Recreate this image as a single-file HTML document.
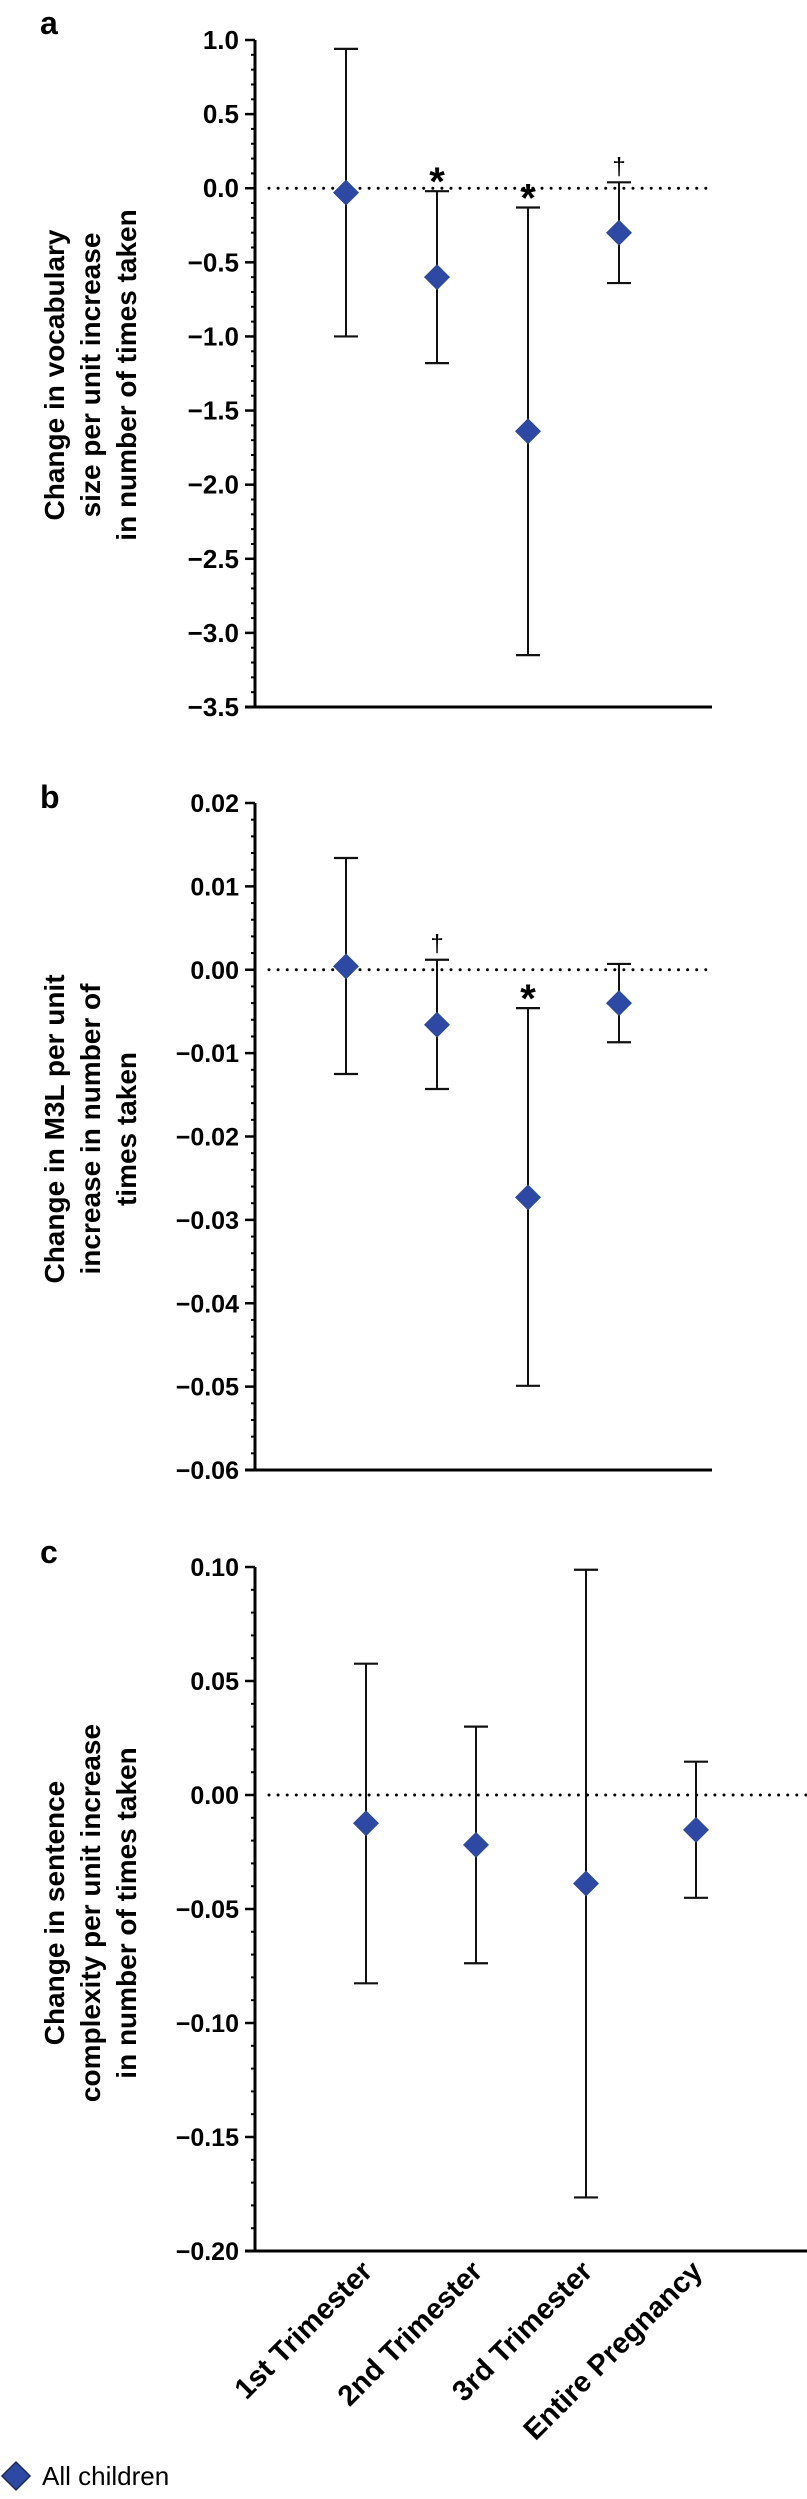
<!DOCTYPE html>
<html><head><meta charset="utf-8"><style>
html,body{margin:0;padding:0;background:#fff;}
svg{display:block;font-family:"Liberation Sans",Arial,sans-serif;}
</style></head><body>
<svg id="chart" width="807" height="2499" viewBox="0 0 807 2499">
<g id="root"></g>
<g>
<path d="M16 2462 L30 2476 L16 2490 L2 2476 Z" fill="#2d49a3" stroke="#1a2a5c" stroke-width="1.5"/>
<text x="42" y="2485" font-size="26" fill="#000">All children</text>
</g>
</svg>
<script>
const categories = ["1st Trimester","2nd Trimester","3rd Trimester","Entire Pregnancy"];
const aEst = [-0.03,-0.60,-1.64,-0.30];
const aLow = [-1.00,-1.18,-3.15,-0.64];
const aHigh = [0.94,-0.02,-0.13,0.04];
const aMarks = ["","*","*","†"];
const aTicks = [1.0,0.5,0.0,-0.5,-1.0,-1.5,-2.0,-2.5,-3.0,-3.5];
const aTickLabels = ["1.0","0.5","0.0","−0.5","−1.0","−1.5","−2.0","−2.5","−3.0","−3.5"];
const bEst = [0.0004,-0.0066,-0.0273,-0.0040];
const bLow = [-0.0125,-0.0143,-0.0499,-0.0087];
const bHigh = [0.0134,0.0012,-0.0046,0.0007];
const bMarks = ["","†","*",""];
const bTicks = [0.02,0.01,0.0,-0.01,-0.02,-0.03,-0.04,-0.05,-0.06];
const bTickLabels = ["0.02","0.01","0.00","−0.01","−0.02","−0.03","−0.04","−0.05","−0.06"];
const cEst = [-0.0124,-0.0219,-0.0388,-0.0153];
const cLow = [-0.0826,-0.0738,-0.1765,-0.0451];
const cHigh = [0.0576,0.030,0.0988,0.0146];
const cMarks = ["","","",""];
const cTicks = [0.10,0.05,0.0,-0.05,-0.10,-0.15,-0.20];
const cTickLabels = ["0.10","0.05","0.00","−0.05","−0.10","−0.15","−0.20"];

const NS="http://www.w3.org/2000/svg";
const root=document.getElementById('root');
function mk(tag,attrs,parent,txt){const e=document.createElementNS(NS,tag);for(const k in attrs)e.setAttribute(k,attrs[k]);if(txt!==undefined)e.textContent=txt;(parent||root).appendChild(e);return e;}

function panel(cfg){
  const g=mk('g',{});
  
  
  const vmax=cfg.ticks[0], vmin=cfg.ticks[cfg.ticks.length-1];
  const y=v=>cfg.yTop+(vmax-v)/(vmax-vmin)*(cfg.yBot-cfg.yTop);
  const x=i=>cfg.x0+i*cfg.dx;
  const ax=255;
  const lt=mk('text',{x:40,y:cfg.letterY,'font-size':32,'font-weight':'bold'},g,cfg.id);
  
  
  for(let t=0;t<cfg.ticks.length-1;t++){
    for(let k=1;k<cfg.minor;k++){
      const v=cfg.ticks[t]-(cfg.ticks[t]-cfg.ticks[t+1])*k/cfg.minor;
      const m=mk('line',{x1:ax-4,x2:ax,y1:y(v),y2:y(v),stroke:'#000','stroke-width':2},g);
      
      
    }
  }
  cfg.ticks.forEach((v,i)=>{
    const tk=mk('line',{x1:ax-10,x2:ax,y1:y(v),y2:y(v),stroke:'#000','stroke-width':2.5},g);
    
    
    const tl=mk('text',{x:ax-16,y:y(v)+9,'font-size':cfg.fs,'font-weight':'bold','text-anchor':'end'},g,cfg.labels[i]);
    
    
  });
  const ya=mk('line',{x1:ax,x2:ax,y1:cfg.yTop,y2:cfg.yBot+1.5,stroke:'#000','stroke-width':3},g);
  
  
  const xa=mk('line',{x1:ax-10,x2:cfg.xEnd,y1:cfg.yBot,y2:cfg.yBot,stroke:'#000','stroke-width':3},g);
  
  
  const zl=mk('line',{x1:ax+14,x2:cfg.xEnd,y1:y(0),y2:y(0),stroke:'#000','stroke-width':3,'stroke-dasharray':'0 9.1','stroke-linecap':'round'},g);
  
  
  const tt=mk('text',{transform:`translate(0 ${cfg.titleY}) rotate(-90)`,'font-size':28,'font-weight':'bold','text-anchor':'middle'},g);
  
  
  cfg.title.forEach((s,i)=>mk('tspan',{x:0,y:64+i*36},tt,s));
  for(let i=0;i<categories.length;i++){
    const cx=x(i);
    const eb=mk('g',{},g);
    
    
    mk('line',{x1:cx,x2:cx,y1:y(cfg.high[i]),y2:y(cfg.low[i]),stroke:'#111','stroke-width':2},eb);
    mk('line',{x1:cx-12,x2:cx+12,y1:y(cfg.high[i]),y2:y(cfg.high[i]),stroke:'#111','stroke-width':2.2},eb);
    mk('line',{x1:cx-12,x2:cx+12,y1:y(cfg.low[i]),y2:y(cfg.low[i]),stroke:'#111','stroke-width':2.2},eb);
    const py=y(cfg.est[i]);
    const d=mk('path',{d:`M${cx} ${py-13} L${cx+13} ${py} L${cx} ${py+13} L${cx-13} ${py} Z`,fill:'#2d49a3'},g);
    
    
    if(cfg.marks[i]){
      const star=cfg.marks[i]==='*';
      const mt=mk('text',{x:cx,y:y(cfg.high[i])+(star?4:-8),'font-size':star?40:24,'font-weight':star?'bold':'normal','text-anchor':'middle'},g,cfg.marks[i]);
      
      
    }
    if(cfg.xlabels){
      const xl=mk('text',{transform:`translate(${cx+8} ${cfg.yBot+22}) rotate(-45)`,'font-size':29,'font-weight':'bold','text-anchor':'end'},g,categories[i]);
      
      
    }
  }
}
panel({id:'a',ticks:aTicks,labels:aTickLabels,est:aEst,low:aLow,high:aHigh,marks:aMarks,yTop:40,yBot:707,x0:346,dx:91,xEnd:712,minor:5,fs:26,letterY:34,titleY:375,title:["Change in vocabulary","size per unit increase","in number of times taken"]});
panel({id:'b',ticks:bTicks,labels:bTickLabels,est:bEst,low:bLow,high:bHigh,marks:bMarks,yTop:803,yBot:1470,x0:346,dx:91,xEnd:712,minor:5,fs:25,letterY:808,titleY:1129,title:["Change in M3L per unit","increase in number of","times taken"]});
panel({id:'c',ticks:cTicks,labels:cTickLabels,est:cEst,low:cLow,high:cHigh,marks:cMarks,yTop:1567,yBot:2251,x0:366,dx:110,xEnd:807,minor:5,fs:25,letterY:1563,titleY:1913,title:["Change in sentence","complexity per unit increase","in number of times taken"],xlabels:true});
</script>
</body></html>
